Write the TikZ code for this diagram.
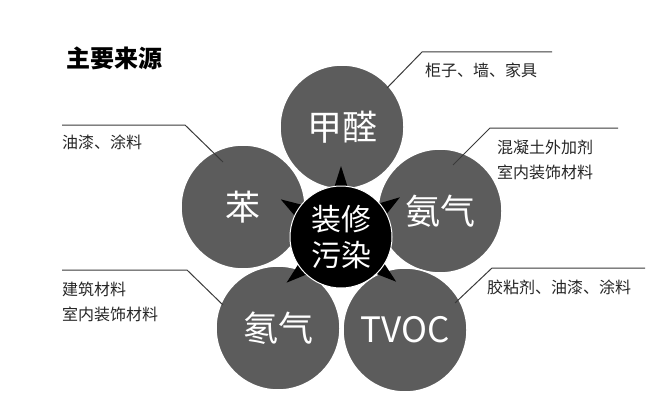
\documentclass[tikz,border=0pt]{standalone}
\usepackage{fontspec}
\usetikzlibrary{calc}
\setmainfont{Noto Sans CJK SC}
\definecolor{petal}{HTML}{5C5C5C}
\definecolor{lead}{HTML}{3A3A3A}
\begin{document}
\begin{tikzpicture}[x=1pt,y=-1pt,
  petalc/.style={circle,fill=petal,draw=white,line width=1.5pt,minimum size=124pt,inner sep=0pt,text=white,font=\fontsize{35}{36}\selectfont},
  leadline/.style={draw=lead,line width=1pt},
  lbl/.style={anchor=west,inner sep=0pt,font=\fontsize{16}{25}\selectfont,text=black!85,align=left}]
\useasboundingbox (0,0) rectangle (660,409);
\node[petalc] (p1) at (342,127) {甲醛};
\node[petalc] (p3) at (440,211) {氨气};
\node[petalc] (p2) at (243,207) {苯};
\node[petalc] (p5) at (405,330) {TVOC};
\node[petalc] (p4) at (278,328) {氡气};
\coordinate (cc) at (341,237);
\foreach \a in {90,34,148,-140,-39}{
  \fill[black] ($(cc)+({-\a+9}:48)$) -- ($(cc)+({-\a}:71)$) -- ($(cc)+({-\a-9}:48)$) -- cycle;
}
\node[circle,fill=black,draw=white,line width=1pt,minimum size=102pt,inner sep=0pt,text=white,align=center,font=\fontsize{30}{36}\selectfont] (c) at (cc) {装修\\污染};
\node[anchor=west,inner sep=0pt,font=\bfseries\fontsize{24}{24}\selectfont] (t) at (66,58) {主要来源};
% leaders
\coordinate (a1) at (422,52); \coordinate (b1) at (552,52);
\draw[leadline] (387,88) -- (a1) -- (b1);
\node[lbl] (l1) at (425,70) {柜子、墙、家具};
\coordinate (a3) at (490,128); \coordinate (b3) at (618,128);
\draw[leadline] (453,165) -- (a3) -- (b3);
\node[lbl] (l3) at (497,160) {混凝土外加剂\\室内装饰材料};
\coordinate (a5) at (492,268); \coordinate (b5) at (645,268);
\draw[leadline] (455,303) -- (a5) -- (b5);
\node[lbl] (l5) at (487,287) {胶粘剂、油漆、涂料};
\coordinate (a2) at (185,125); \coordinate (b2) at (62,125);
\draw[leadline] (223,162) -- (a2) -- (b2);
\node[lbl] (l2) at (62,142) {油漆、涂料};
\coordinate (a4) at (187,270); \coordinate (b4) at (62,270);
\draw[leadline] (223,305) -- (a4) -- (b4);
\node[lbl] (l4) at (62,302) {建筑材料\\室内装饰材料};
\end{tikzpicture}
\end{document}
